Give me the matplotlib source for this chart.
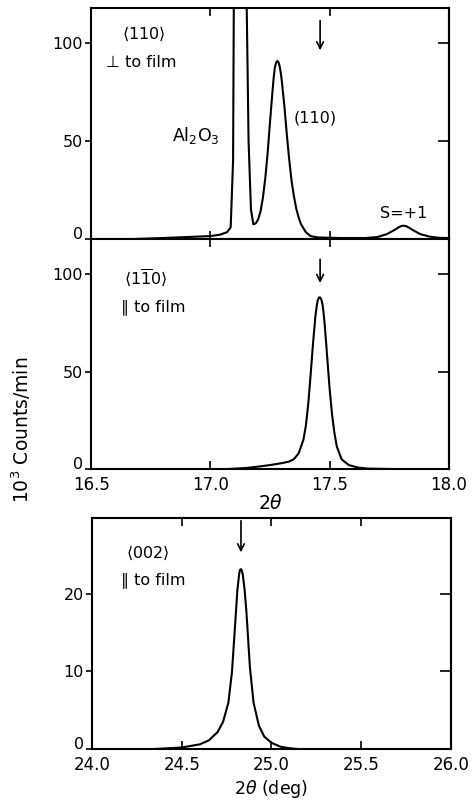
import matplotlib.pyplot as plt
from matplotlib.ticker import MultipleLocator, FuncFormatter

plt.rcParams['font.family'] = ['DejaVu Sans']
plt.rcParams['mathtext.fontset'] = 'dejavusans'

# <110> perpendicular to film (10^3 counts/min)
top_x = [16.68, 16.80, 16.90, 17.00, 17.04, 17.07, 17.085, 17.095, 17.105, 17.125, 17.145,
         17.152, 17.16, 17.17, 17.18, 17.19, 17.20, 17.21, 17.22, 17.23, 17.24, 17.25, 17.26,
         17.265, 17.27, 17.275, 17.28, 17.285, 17.29, 17.295, 17.30, 17.31, 17.32, 17.33,
         17.34, 17.35, 17.36, 17.37, 17.38, 17.40, 17.42, 17.45, 17.55, 17.65, 17.70, 17.74,
         17.77, 17.79, 17.80, 17.81, 17.82, 17.83, 17.85, 17.88, 17.92, 17.96, 18.00]
top_y = [0, 0.5, 1.0, 1.5, 2.2, 3.5, 6, 40, 300, 400, 300,
         120, 50, 15, 7.5, 8, 10, 14, 21, 31, 44, 60, 75,
         82, 87.5, 90, 91, 90.5, 88.5, 85, 80, 68, 54, 41,
         30, 22, 15.5, 11, 7.5, 3.5, 1.5, 0.8, 0.5, 0.5, 1, 2.5,
         4.5, 6, 6.6, 6.8, 6.6, 6, 4.5, 2.5, 1.2, 0.6, 0.5]

# <1-10> parallel to film
mid_x = [17.08, 17.15, 17.20, 17.25, 17.30, 17.33, 17.35, 17.37, 17.39, 17.40, 17.41, 17.42,
         17.43, 17.44, 17.445, 17.45, 17.455, 17.46, 17.465, 17.47, 17.475, 17.48, 17.49,
         17.50, 17.51, 17.52, 17.53, 17.55, 17.58, 17.62, 17.66, 17.75]
mid_y = [0, 0.5, 1.2, 2.0, 3.0, 3.8, 5, 8, 15, 22, 33, 48,
         64, 78, 83, 86.5, 88, 88, 87, 84.5, 79.5, 73, 57,
         41, 28, 18.5, 11.5, 5, 2, 0.7, 0.2, 0]

# <002> parallel to film
bot_x = [24.35, 24.50, 24.60, 24.65, 24.70, 24.73, 24.76, 24.78, 24.80, 24.81, 24.82, 24.825,
         24.83, 24.835, 24.84, 24.85, 24.86, 24.88, 24.90, 24.93, 24.96, 25.00, 25.05, 25.10,
         25.15]
bot_y = [0, 0.2, 0.6, 1.1, 2.2, 3.5, 6, 10, 17, 20.5, 22.6, 23.1,
         23.2, 23, 22.5, 20.6, 17.8, 10.5, 6, 3, 1.6, 0.8, 0.3, 0.1,
         0]

arrow_x = [17.46, 17.46, 24.83]

fig = plt.figure(figsize=(4.75, 8.08), dpi=100)
ax1 = fig.add_axes([0.192, 0.7042, 0.753, 0.2858])
ax2 = fig.add_axes([0.192, 0.4196, 0.753, 0.2846])
ax3 = fig.add_axes([0.194, 0.073, 0.755, 0.286])

fs = 11.5


def style(ax, ymax, ystep, xlim, xstep):
    ax.set_xlim(*xlim)
    ax.set_ylim(0, ymax)
    ax.xaxis.set_major_locator(MultipleLocator(xstep))
    ax.yaxis.set_major_locator(MultipleLocator(ystep))
    ax.tick_params(axis='x', direction='in', top=True, bottom=True, length=6, width=1.2,
                   labelsize=fs + 0.5, pad=5)
    ax.tick_params(axis='y', direction='out', left=True, right=False, length=4, width=1.2,
                   labelsize=fs, pad=2)
    sec = ax.secondary_yaxis('right')
    sec.yaxis.set_major_locator(MultipleLocator(ystep))
    sec.tick_params(direction='in', length=8, width=1.2, labelright=False)
    sec.spines['right'].set_linewidth(1.5)
    for s in ax.spines.values():
        s.set_linewidth(1.5)
    # "0" is drawn by hand a little above its tick, as in the original
    ax.yaxis.set_major_formatter(FuncFormatter(lambda v, p: '' if v == 0 else f'{v:.0f}'))
    ax.text(-0.023, 0.02, '0', transform=ax.transAxes, ha='right', va='center', fontsize=fs)


style(ax1, 118, 50, (16.5, 18.0), 0.5)
style(ax2, 118, 50, (16.5, 18.0), 0.5)
style(ax3, 29.8, 10, (24.0, 26.0), 0.5)
ax1.tick_params(axis='x', labelbottom=False)

ax1.plot(top_x, top_y, color='black', lw=1.5)
ax2.plot(mid_x, mid_y, color='black', lw=1.5)
ax3.plot(bot_x, bot_y, color='black', lw=1.5)

ax1.text(16.72, 105, r'$\langle$110$\rangle$', ha='center', va='center', fontsize=fs)
ax1.text(16.56, 90, '⊥ to film', ha='left', va='center', fontsize=fs)
ax1.text(16.94, 53, r'Al$_2$O$_3$', ha='center', va='center', fontsize=fs + 1)
ax1.text(17.44, 62, '(110)', ha='center', va='center', fontsize=fs)
ax1.text(17.81, 13, 'S=+1', ha='center', va='center', fontsize=fs)

ax2.text(16.73, 98, r'$\langle 1\overline{1}0\rangle$', ha='center', va='center', fontsize=fs)
ax2.text(16.76, 83, '∥ to film', ha='center', va='center', fontsize=fs)

ax3.text(24.31, 25.3, r'$\langle$002$\rangle$', ha='center', va='center', fontsize=fs)
ax3.text(24.34, 21.8, '∥ to film', ha='center', va='center', fontsize=fs)

arrow = dict(arrowstyle='->', color='black', lw=1.2, mutation_scale=12)
ax1.annotate('', xy=(arrow_x[0], 95), xytext=(arrow_x[0], 113), arrowprops=arrow)
ax2.annotate('', xy=(arrow_x[1], 94), xytext=(arrow_x[1], 109), arrowprops=arrow)
ax3.annotate('', xy=(arrow_x[2], 25), xytext=(arrow_x[2], 29.8), arrowprops=arrow)

ax2.set_xlabel(r'2$\theta$', fontsize=fs + 2, labelpad=0)
ax3.set_xlabel(r'2$\theta$ (deg)', fontsize=fs + 1, labelpad=3)
fig.text(0.045, 1 - 430 / 808, r'10$^3$ Counts/min', rotation=90, ha='center', va='center',
         fontsize=fs + 2)

fig.savefig('out.png', dpi=100)
